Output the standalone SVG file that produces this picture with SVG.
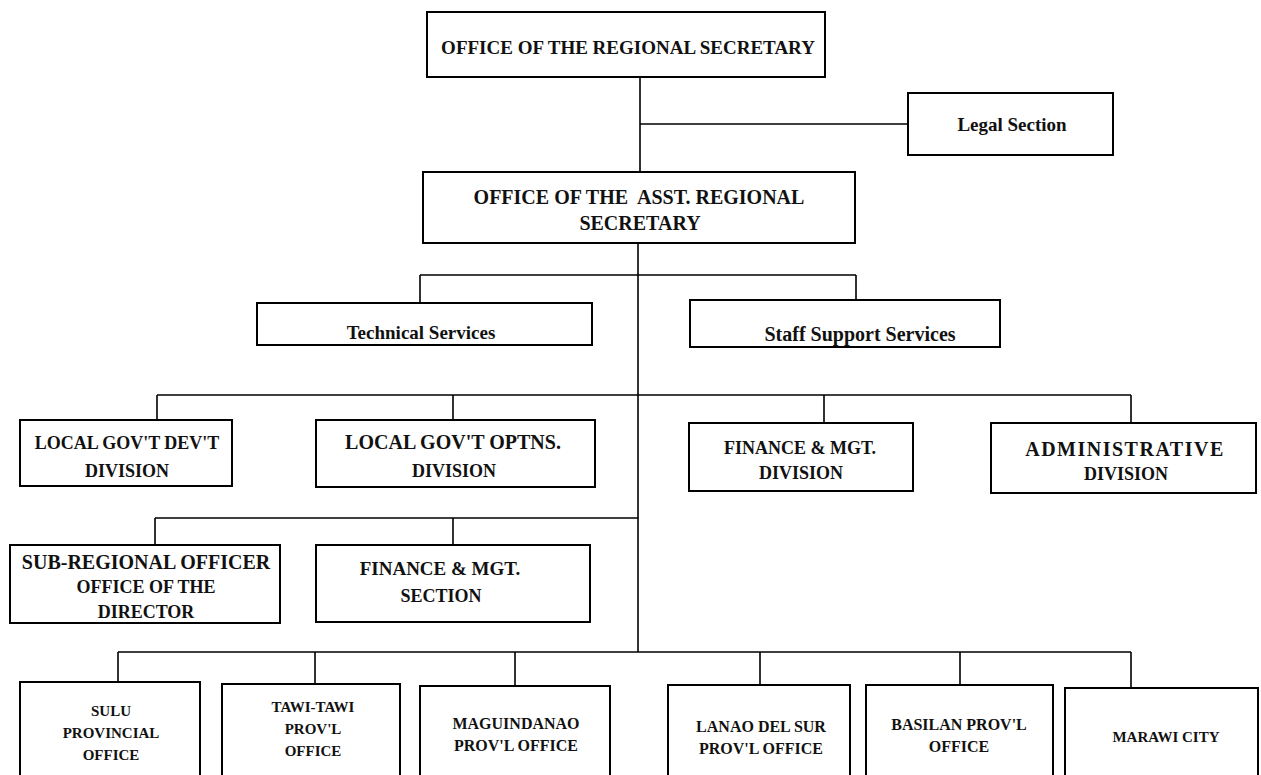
<svg xmlns="http://www.w3.org/2000/svg" width="1261" height="775" viewBox="0 0 1261 775">
<style>
.box{fill:#fff;stroke:#000;stroke-width:2}
.ln{stroke:#000;stroke-width:1.6;fill:none}
text{font-family:"Liberation Serif","Times New Roman",serif;font-weight:bold;fill:#111;text-anchor:middle}
.t20{font-size:20px}
.t19{font-size:19px}
.t18{font-size:18px}
.t16{font-size:16px}
.t15{font-size:15px}
</style>
<rect width="1261" height="775" fill="#fff"/>
<g id="connectors">
<path class="ln" d="M640 77V172M640 124H908"/>
<path class="ln" d="M638 243V652"/>
<path class="ln" d="M420 275H856M420 275V303M856 275V300"/>
<path class="ln" d="M157 395H1131M157 395V420M453 395V420M824 395V423M1131 395V423"/>
<path class="ln" d="M155 518H638M155 518V545M453 518V545"/>
<path class="ln" d="M118 652H1131M118 652V682M315 652V684M515 652V686M760 652V685M960 652V685M1131 652V688"/>
</g>
<g id="n-regional"><rect class="box" x="427" y="12" width="398" height="65"/><text class="t19" x="628" y="54">OFFICE OF THE REGIONAL SECRETARY</text></g>
<g id="n-legal"><rect class="box" x="908" y="93" width="205" height="62"/><text class="t19" x="1012" y="131">Legal Section</text></g>
<g id="n-asst"><rect class="box" x="423" y="172" width="432" height="71"/><text class="t20" x="639" y="204" xml:space="preserve">OFFICE OF THE  ASST. REGIONAL</text><text class="t20" x="640" y="230">SECRETARY</text></g>
<g id="n-tech"><rect class="box" x="257" y="303" width="335" height="42"/><text class="t19" x="421" y="339">Technical Services</text></g>
<g id="n-staff"><rect class="box" x="690" y="300" width="310" height="47"/><text class="t20" x="860" y="341">Staff Support Services</text></g>
<g id="n-lgdd"><rect class="box" x="20" y="420" width="212" height="66"/><text class="t18" x="127" y="449">LOCAL GOV'T DEV'T</text><text class="t18" x="127" y="477">DIVISION</text></g>
<g id="n-lgod"><rect class="box" x="316" y="420" width="279" height="67"/><text class="t20" x="453" y="449">LOCAL GOV'T OPTNS.</text><text class="t18" x="454" y="477">DIVISION</text></g>
<g id="n-fmd"><rect class="box" x="689" y="423" width="224" height="68"/><text class="t18" x="800" y="454">FINANCE &amp; MGT.</text><text class="t18" x="801" y="479">DIVISION</text></g>
<g id="n-admin"><rect class="box" x="991" y="423" width="265" height="70"/><text class="t20" x="1125" y="456" letter-spacing="1.5">ADMINISTRATIVE</text><text class="t18" x="1126" y="480">DIVISION</text></g>
<g id="n-sub"><rect class="box" x="10" y="545" width="270" height="78"/><text class="t20" x="146" y="569">SUB-REGIONAL OFFICER</text><text class="t18" x="146" y="593">OFFICE OF THE</text><text class="t18" x="146" y="618">DIRECTOR</text></g>
<g id="n-fms"><rect class="box" x="316" y="545" width="274" height="77"/><text class="t19" x="440" y="575">FINANCE &amp; MGT.</text><text class="t18" x="441" y="602">SECTION</text></g>
<g id="n-sulu"><rect class="box" x="20" y="682" width="180" height="100"/><text class="t15" x="111" y="716">SULU</text><text class="t15" x="111" y="738">PROVINCIAL</text><text class="t15" x="111" y="760">OFFICE</text></g>
<g id="n-tawi"><rect class="box" x="222" y="684" width="178" height="100"/><text class="t15" x="313" y="712">TAWI-TAWI</text><text class="t15" x="313" y="734">PROV'L</text><text class="t15" x="313" y="756">OFFICE</text></g>
<g id="n-magu"><rect class="box" x="420" y="686" width="190" height="100"/><text class="t16" x="516" y="729">MAGUINDANAO</text><text class="t16" x="516" y="751">PROV'L OFFICE</text></g>
<g id="n-lanao"><rect class="box" x="668" y="685" width="182" height="100"/><text class="t16" x="761" y="732">LANAO DEL SUR</text><text class="t16" x="761" y="754">PROV'L OFFICE</text></g>
<g id="n-basilan"><rect class="box" x="866" y="685" width="187" height="100"/><text class="t16" x="959" y="730">BASILAN PROV'L</text><text class="t16" x="959" y="752">OFFICE</text></g>
<g id="n-marawi"><rect class="box" x="1065" y="688" width="193" height="100"/><text class="t15" x="1166" y="742">MARAWI CITY</text></g>
</svg>
